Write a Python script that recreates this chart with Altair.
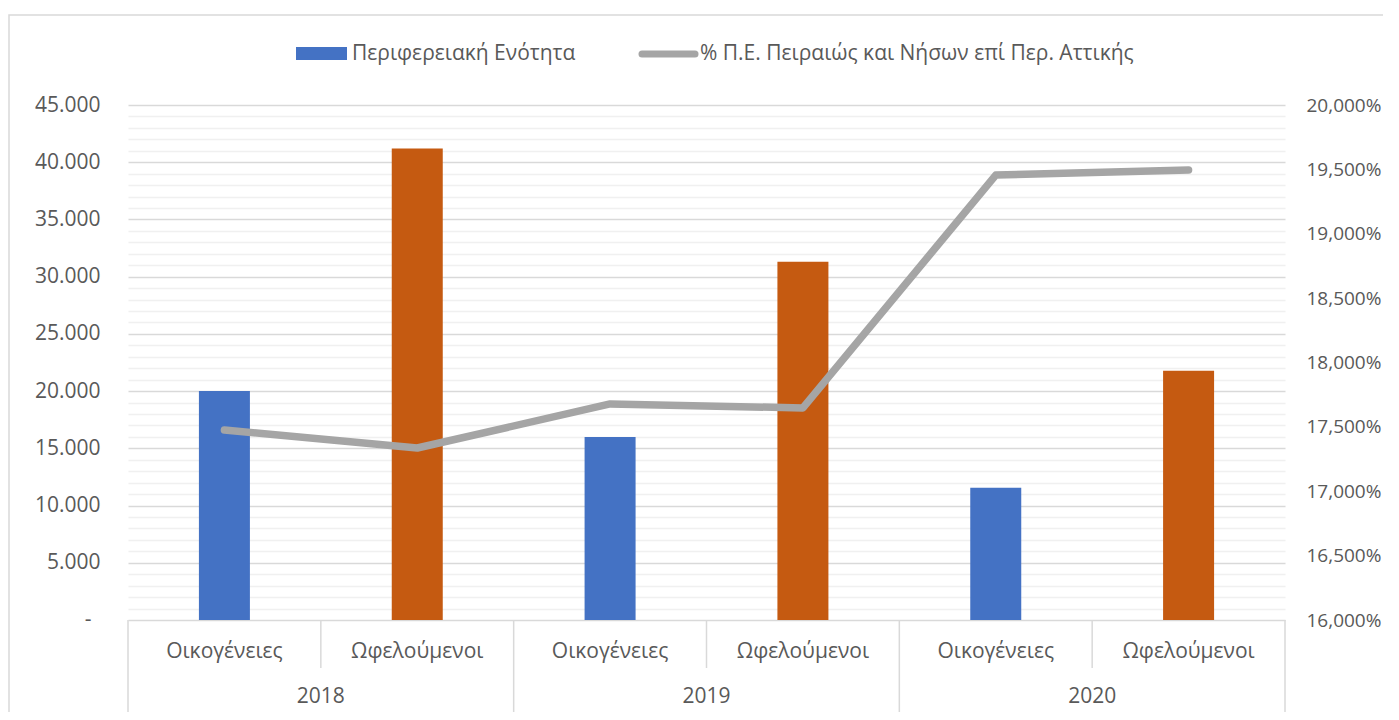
import altair as alt
import pandas as pd

years = ["2018", "2019", "2020"]
groups = ["Οικογένειες", "Ωφελούμενοι"]
bar_values = [20000, 41200, 16000, 31300, 11550, 21770]
pct_values = [17.476, 17.336, 17.678, 17.647, 19.456, 19.495]
legend_labels = ["Περιφερειακή Ενότητα", "% Π.Ε. Πειραιώς και Νήσων επί Περ. Αττικής"]
left_ticks = list(range(0, 45001, 1000))
right_ticks = [16.0, 16.5, 17.0, 17.5, 18.0, 18.5, 19.0, 19.5, 20.0]
zero_label = ["-"]

W, H = 1157, 515
FONT = "Open Sans"
FS = 21
TXT = "#595959"
BLUE, ORANGE, GRAY = "#4472C4", "#C55A11", "#A5A5A5"

rows = []
for yi, yr in enumerate(years):
    for gi, g in enumerate(groups):
        idx = yi * 2 + gi
        rows.append({"year": yr, "group": g, "pos": idx + 0.5,
                     "value": bar_values[idx], "pct": pct_values[idx]})
df = pd.DataFrame(rows)

yr_df = pd.DataFrame({"year": years, "pos": [2 * i + 1 for i in range(len(years))]})
bnd = pd.DataFrame({"b": list(range(len(df) + 1))})
bnd["long"] = bnd["b"] % 2 == 0

xscale = alt.Scale(domain=[0, len(df)], nice=False, zero=False, padding=0)
yscale_left = alt.Scale(domain=[0, 45000], nice=False)

bars = alt.Chart(df).mark_bar(size=51).encode(
    x=alt.X("pos:Q", scale=xscale,
            axis=alt.Axis(title=None, labels=False, ticks=False, grid=False,
                          domain=True, domainColor="#d9d9d9", domainWidth=1.5)),
    y=alt.Y("value:Q", scale=yscale_left,
            axis=alt.Axis(
                title=None, values=left_ticks, ticks=False, domain=False,
                labelOverlap=False, labelPadding=28, labelFlush=False,
                labelExpr="datum.value % 5000 === 0 && datum.value > 0 ? replace(format(datum.value, ','), ',', '.') : ''",
                grid=True,
                gridColor={"condition": {"test": "datum.value % 5000 === 0", "value": "#d9d9d9"},
                           "value": "#f0f0f0"},
                gridWidth=1.5)),
    color=alt.Color("group:N", scale=alt.Scale(domain=groups, range=[BLUE, ORANGE]), legend=None),
)

zero_df = pd.DataFrame({"v": [0], "t": zero_label})
zero_txt = alt.Chart(zero_df).mark_text(font=FONT, fontSize=FS, color=TXT, align="center",
                                        baseline="middle").encode(
    x=alt.value(-40),
    y=alt.Y("v:Q", scale=yscale_left, axis=None),
    text="t:N",
)

line = alt.Chart(df).mark_line(color=GRAY, strokeWidth=7.5, strokeCap="round", strokeJoin="round").encode(
    x=alt.X("pos:Q", scale=xscale, axis=None),
    y=alt.Y("pct:Q", scale=alt.Scale(domain=[16, 20], nice=False, zero=False),
            axis=alt.Axis(orient="right", title=None, values=right_ticks, ticks=False,
                          domain=False, grid=False, labelOverlap=False, labelPadding=21,
                          labelFlush=False, labelFontSize=19,
                          labelExpr="replace(format(datum.value, '.3f'), '.', ',') + '%'")),
)

cat_labels = alt.Chart(df).mark_text(font=FONT, fontSize=FS, color=TXT, baseline="middle").encode(
    x=alt.X("pos:Q", scale=xscale, axis=None),
    y=alt.value(H + 32),
    text="group:N",
)

year_labels = alt.Chart(yr_df).mark_text(font=FONT, fontSize=FS, color=TXT, baseline="middle").encode(
    x=alt.X("pos:Q", scale=xscale, axis=None),
    y=alt.value(H + 77),
    text="year:N",
)

sep_short = alt.Chart(bnd).transform_filter("!datum.long").mark_rule(color="#d9d9d9", strokeWidth=1.5).encode(
    x=alt.X("b:Q", scale=xscale, axis=None),
    y=alt.value(H), y2=alt.value(H + 48),
)
sep_long = alt.Chart(bnd).transform_filter("datum.long").mark_rule(color="#d9d9d9", strokeWidth=1.5).encode(
    x=alt.X("b:Q", scale=xscale, axis=None),
    y=alt.value(H), y2=alt.value(H + 100),
)

leg_df = pd.DataFrame({"label": legend_labels, "lx": [224, 572]})
leg_text = alt.Chart(leg_df).mark_text(font=FONT, fontSize=FS, color=TXT, align="left", baseline="middle").encode(
    x=alt.X("lx:Q", scale=None), y=alt.value(-51), text="label:N",
)
one = pd.DataFrame({"k": [0]})
leg_swatch = alt.Chart(one).mark_rect(color=BLUE).encode(
    x=alt.value(168), x2=alt.value(219), y=alt.value(-58), y2=alt.value(-45),
)
leg_line = alt.Chart(one).mark_rule(color=GRAY, strokeWidth=7, strokeCap="round").encode(
    x=alt.value(514), x2=alt.value(567), y=alt.value(-51),
)
border = alt.Chart(one).mark_rect(fillOpacity=0, stroke="#d9d9d9", strokeWidth=1.5).encode(
    x=alt.value(-119), x2=alt.value(W + 300), y=alt.value(-90), y2=alt.value(H + 300),
)

chart = alt.layer(
    border, bars, zero_txt, line, sep_short, sep_long, cat_labels, year_labels,
    leg_swatch, leg_line, leg_text,
).resolve_scale(y="independent").properties(
    width=W, height=H,
    autosize=alt.AutoSizeParams(type="none"),
    padding={"left": 120, "top": 97, "right": 98, "bottom": 92},
    background="white",
).configure_view(stroke=None).configure_axis(
    labelFont=FONT, labelFontSize=FS, labelColor=TXT,
)

chart.save("out.html", embed_options={"renderer": "svg", "actions": False})
